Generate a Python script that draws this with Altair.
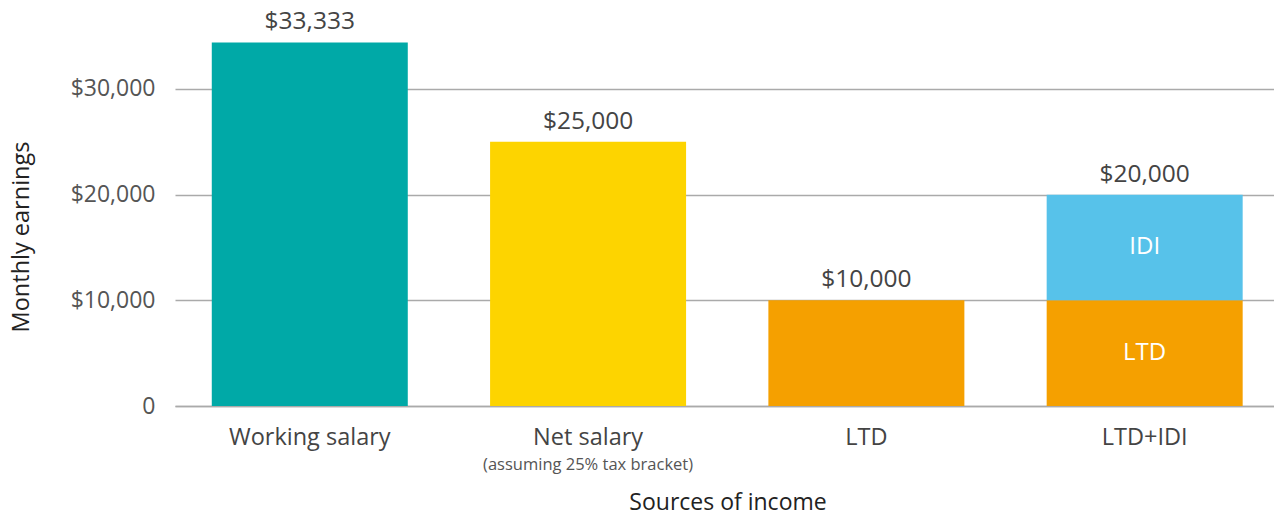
import altair as alt
import pandas as pd

categories = ["Working salary", "Net salary", "LTD", "LTD+IDI"]
# stacked segments (category, segment, bar height)
seg_category = ["Working salary", "Net salary", "LTD", "LTD+IDI", "LTD+IDI"]
seg_name = ["Working salary", "Net salary", "LTD", "LTD", "IDI"]
seg_start = [0, 0, 0, 0, 10000]
seg_end = [34400, 25000, 10000, 10000, 20000]
seg_color = ["#00A9A7", "#FDD400", "#F5A000", "#F5A000", "#57C2EA"]
seg_inner_label = ["", "", "", "LTD", "IDI"]

total_labels = ["$33,333", "$25,000", "$10,000", "$20,000"]
total_heights = [34400, 25000, 10000, 20000]
sub_labels = ["", "(assuming 25% tax bracket)", "", ""]

y_ticks = [0, 10000, 20000, 30000]

FONT = "Open Sans"
GRAY = "#aaaaaa"

seg_df = pd.DataFrame({
    "category": seg_category, "segment": seg_name, "start": seg_start,
    "end": seg_end, "color": seg_color, "inner": seg_inner_label,
})
seg_df["mid"] = (seg_df["start"] + seg_df["end"]) / 2
tot_df = pd.DataFrame({"category": categories, "label": total_labels,
                       "value": total_heights, "sub": sub_labels})

xscale = alt.Scale(domain=categories, paddingInner=0.296, paddingOuter=0.1225, align=0.54)
yscale = alt.Scale(domain=[0, 38422], nice=False, zero=True)

x_enc = alt.X("category:N", scale=xscale, sort=categories, title=None,
              axis=alt.Axis(labelAngle=0, labelFontSize=23.5, labelColor="#444444",
                            labelFont=FONT, labelPadding=19, ticks=False,
                            domain=True, domainColor=GRAY, domainWidth=1.5, grid=False))

bars = alt.Chart(seg_df).mark_bar(size=196).encode(
    x=x_enc,
    y=alt.Y("start:Q", scale=yscale, title=None,
            axis=alt.Axis(values=y_ticks, grid=True, gridColor=GRAY, gridWidth=1.5,
                          domain=False, ticks=False, labelFontSize=23,
                          labelColor="#555555", labelFont=FONT, labelPadding=20,
                          labelBaseline="middle",
                          labelExpr="datum.value == 0 ? '0' : '$' + format(datum.value, ',')")),
    y2="end:Q",
    color=alt.Color("color:N", scale=None),
)

inner = alt.Chart(seg_df).mark_text(color="white", fontSize=24, font=FONT, baseline="middle").encode(
    x=alt.X("category:N", sort=categories),
    y=alt.Y("mid:Q"),
    text="inner:N",
)

totals = alt.Chart(tot_df).mark_text(color="#444444", fontSize=24.5, font=FONT,
                                      baseline="middle", dy=-20).encode(
    x=alt.X("category:N", sort=categories),
    y=alt.Y("value:Q"),
    text="label:N",
)

subs = alt.Chart(tot_df).mark_text(color="#555555", fontSize=16.5, font=FONT,
                                    baseline="middle").encode(
    x=alt.X("category:N", sort=categories),
    y=alt.value(59 + 406),
    text="sub:N",
)

x_title = alt.Chart(pd.DataFrame({"t": ["Sources of income"]})).mark_text(
    color="#222222", fontSize=23, font=FONT, baseline="middle").encode(
    x=alt.value(553), y=alt.value(503), text="t:N")

y_title = alt.Chart(pd.DataFrame({"t": ["Monthly earnings"]})).mark_text(
    color="#222222", fontSize=23.5, font=FONT, baseline="middle", angle=270).encode(
    x=alt.value(-153), y=alt.value(237), text="t:N")

chart = alt.layer(bars, inner, totals, subs, x_title, y_title).properties(
    width=1099, height=406,
    background="white",
    autosize=alt.AutoSizeParams(type="none"),
    padding={"left": 175, "top": 0, "right": 0, "bottom": 112},
).configure_view(stroke=None)

chart.save("out.html", embed_options={"renderer": "svg", "actions": False})
